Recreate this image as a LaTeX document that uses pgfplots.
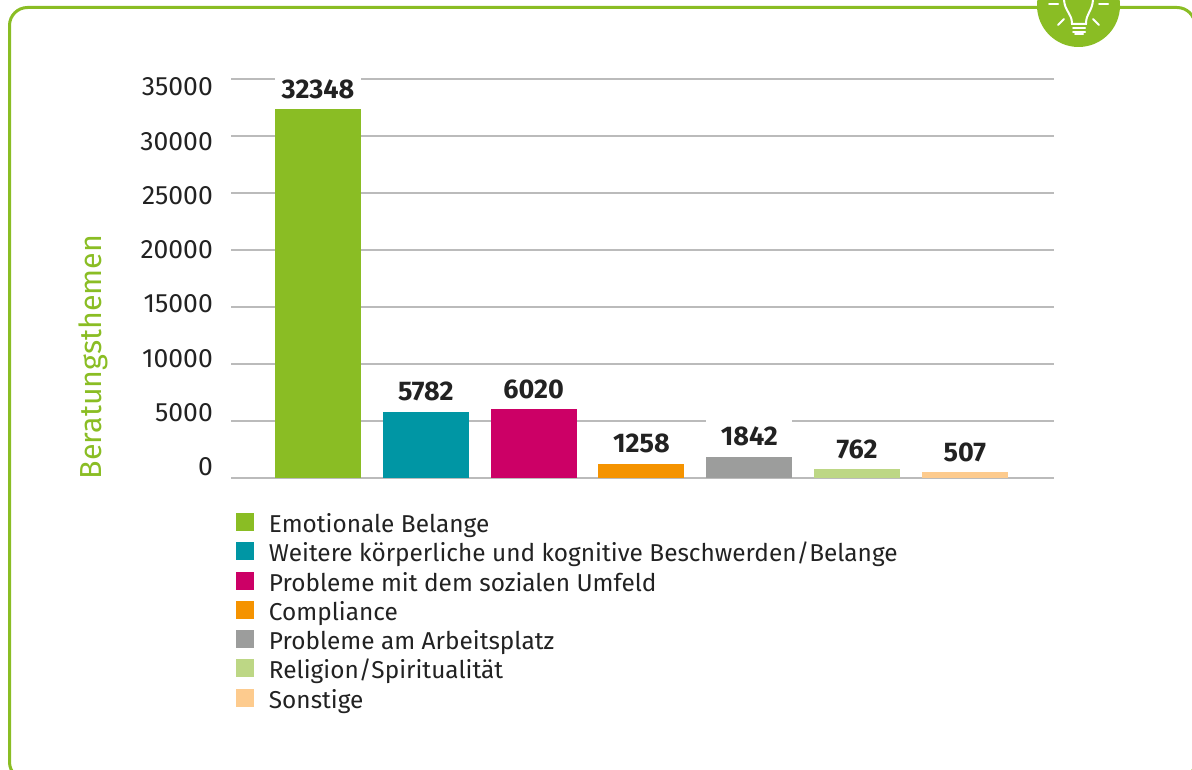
\documentclass[border=0pt]{standalone}
\usepackage{pgfplots}
\pgfplotsset{compat=1.18}
\usepackage{fontspec}
\setmainfont{Fira Sans}
\definecolor{cgreen}{HTML}{8ABD24}
\definecolor{cteal}{HTML}{0096A4}
\definecolor{cmag}{HTML}{CC0066}
\definecolor{corange}{HTML}{F59300}
\definecolor{cgray}{HTML}{9C9D9C}
\definecolor{clgreen}{HTML}{BDD785}
\definecolor{clorange}{HTML}{FDCB8E}
\definecolor{ctext}{HTML}{222222}
\definecolor{cgrid}{HTML}{BBBBBB}
\begin{document}
\begin{tikzpicture}[x=1pt,y=1pt]
\useasboundingbox (0,0) rectangle (1192,769);
\clip (0,0) rectangle (1192,769);
% frame
\draw[cgreen,line width=3pt,rounded corners=18pt] (9.5,-11) rectangle (1195,761.5);
\begin{axis}[
  at={(231pt,291pt)},anchor=south west,
  scale only axis,width=823pt,height=399pt,
  xmin=-0.807,xmax=6.827,ymin=0,ymax=35000,
  axis line style={draw=none},
  xtick=\empty,ytick={0,5000,...,35000},yticklabels={},
  scaled y ticks=false,
  major tick length=0pt,
  ymajorgrids,
  grid style={cgrid,line width=1.3pt},
  ybar,bar width=86pt,bar shift=0pt,
  clip=false,
  /pgf/number format/.cd,1000 sep={},assume math mode=true,
  /pgfplots/.cd,
  nodes near coords,
  every node near coord/.append style={font=\fontsize{27}{27}\selectfont\bfseries,text=ctext,
    fill=white,minimum width=86pt,minimum height=36pt,inner sep=0pt,anchor=south,yshift=2pt},
  legend style={at={(axis description cs:0.006,-0.0875)},anchor=north west,draw=none,fill=none,
    font=\fontsize{24.4}{24.4}\selectfont,text=ctext,inner sep=0pt,outer sep=0pt,
    row sep=4.8pt,
    nodes={text height=17pt,text depth=5pt,inner sep=0pt,anchor=west},
    /tikz/every odd column/.style={column sep=15pt}},
  legend cell align=left,
  area legend,
  legend image code/.code={\fill[#1,draw=none] (0pt,-4.5pt) rectangle (18pt,13.5pt);},
]
\addplot[fill=cgreen,draw=none] coordinates {(0,32348)};
\addlegendentry{Emotionale Belange}
\addplot[fill=cteal,draw=none] coordinates {(1,5782)};
\addlegendentry{Weitere körperliche und kognitive Beschwerden/Belange}
\addplot[fill=cmag,draw=none] coordinates {(2,6020)};
\addlegendentry{Probleme mit dem sozialen Umfeld}
\addplot[fill=corange,draw=none] coordinates {(3,1258)};
\addlegendentry{Compliance}
\addplot[fill=cgray,draw=none] coordinates {(4,1842)};
\addlegendentry{Probleme am Arbeitsplatz}
\addplot[fill=clgreen,draw=none] coordinates {(5,762)};
\addlegendentry{Religion/Spiritualität}
\addplot[fill=clorange,draw=none] coordinates {(6,507)};
\addlegendentry{Sonstige}
\end{axis}
% y tick labels on their own scale (labels sit apart from the gridlines)
\begin{axis}[
  at={(231pt,302pt)},anchor=south west,
  scale only axis,width=823pt,height=380pt,
  xmin=0,xmax=1,ymin=0,ymax=35000,
  axis line style={draw=none},
  xtick=\empty,ytick={0,5000,...,35000},
  scaled y ticks=false,
  major tick length=0pt,
  /pgf/number format/.cd,1000 sep={},fixed,assume math mode=true,
  /pgfplots/.cd,
  yticklabel style={font=\fontsize{26.5}{26.5}\selectfont,text=ctext,inner sep=0pt,anchor=east,xshift=-18pt},
]
\end{axis}
\node[rotate=90,text=cgreen,font=\fontsize{30.4}{30}\selectfont,inner sep=0pt] at (93,412) {Beratungsthemen};
% badge with bulb
\fill[cgreen] (1078.5,763.5) circle (41.5);
\begin{scope}[white,line width=2pt,line cap=round]
\draw (1064,769) .. controls (1065,757) and (1072,756) .. (1072,745) -- (1086,745) .. controls (1086,756) and (1092,757) .. (1093,769);
\draw (1073,740.5) -- (1085,740.5);
\draw (1073,737) -- (1085,737);
\draw (1075,734.5) -- (1083,734.5);
\draw (1049,765) -- (1058,765);
\draw (1099,765) -- (1108,765);
\draw (1058,744) -- (1064,750);
\draw (1099,744) -- (1093,750);
\end{scope}
\end{tikzpicture}
\end{document}
